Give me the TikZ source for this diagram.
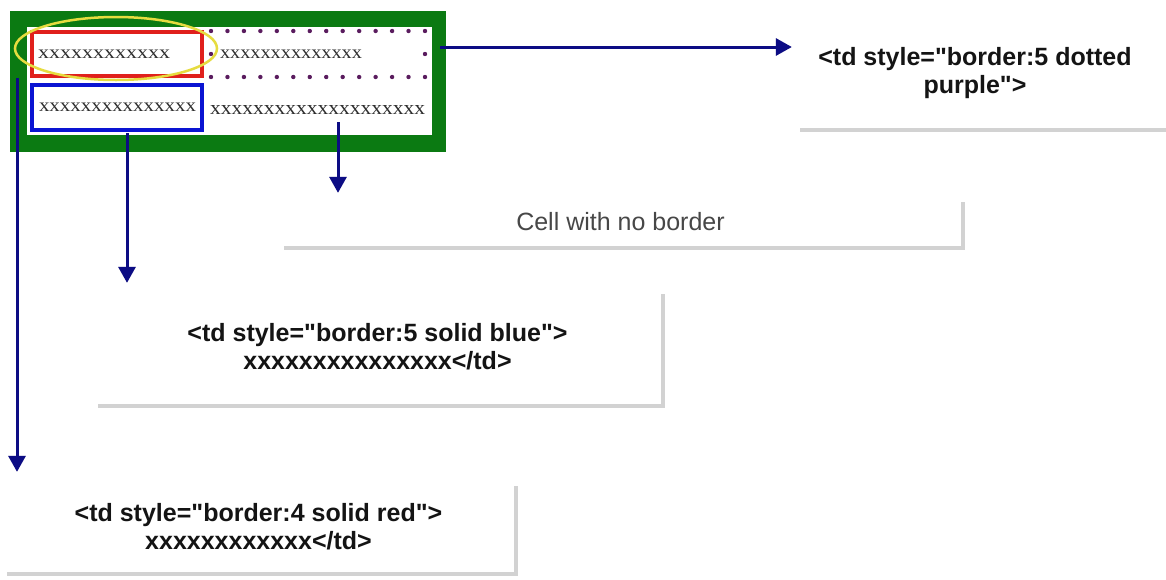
\documentclass[tikz,border=0pt]{standalone}
\usepackage{fontspec}
\setmainfont{Liberation Serif}
\setsansfont{Liberation Sans}[Ligatures=TeXOff]
\usetikzlibrary{arrows.meta,shadows,calc,shapes.geometric}
\definecolor{tgreen}{HTML}{0B7A12}
\definecolor{tred}{HTML}{E0201C}
\definecolor{tblue}{HTML}{0A14D2}
\definecolor{tyellow}{HTML}{E6DC40}
\definecolor{tpurple}{HTML}{5A1C5E}
\definecolor{navytwo}{HTML}{0C0C84}
\definecolor{xgray}{HTML}{2E2E2E}
\begin{document}
\begin{tikzpicture}[x=1pt,y=-1pt,
  xs/.style={inner sep=0pt, text=xgray},
  cell/.style={rectangle, line width=4pt, minimum height=44pt, align=left, inner ysep=0pt, text=xgray},
  tbox/.style={rectangle, fill=white, inner sep=0pt, align=center,
    drop shadow={shadow xshift=4pt, shadow yshift=-4pt, fill=black!35, opacity=0.5},
    font=\sffamily\bfseries\fontsize{25}{28}\selectfont, text=black!92},
  arr/.style={draw=navytwo, line width=3pt, -{Triangle[length=16pt,width=17pt]}},
  arrsh/.style={draw=black!30, opacity=0.4, line width=3pt, -{Triangle[length=16pt,width=17pt]}},
  dotp/.style={fill=tpurple}
]
\useasboundingbox (0,0) rectangle (1166,579);
\fill[white] (0,0) rectangle (1166,579);

% table
\node[fill=tgreen, minimum width=436pt, minimum height=141pt, inner sep=0pt] (tbl) at (228,81.5) {};
\node[fill=white, minimum width=405pt, minimum height=108pt, inner sep=0pt] (tin) at (229.5,81) {};

\node[cell, draw=tred, inner xsep=6pt, text width=158pt] (r1c1) at (117,54)
  {\resizebox{132pt}{8.5pt}{xxxxxxxxxxxx}};
\node[cell, draw=tblue, inner xsep=7pt, text width=156pt, minimum height=45pt] (r2c1) at (117,107.5)
  {\resizebox{157pt}{8.5pt}{xxxxxxxxxxxxxxx}};
\node[cell, inner xsep=7pt, text width=196pt, minimum height=42pt] (r1c2) at (318,54)
  {\resizebox{142pt}{8.5pt}{xxxxxxxxxxxxxx}};
\node[xs, anchor=west] (r2c2) at (210,110) {\resizebox{215pt}{9pt}{xxxxxxxxxxxxxxxxxxxx}};

\foreach \i in {0,...,13}{
  \fill[dotp] ($(r1c2.north west)!\i/13!(r1c2.north east)$) circle (2.2pt);
  \fill[dotp] ($(r1c2.south west)!\i/13!(r1c2.south east)$) circle (2.2pt);
}
\fill[dotp] (r1c2.west) circle (2.2pt);
\fill[dotp] (r1c2.east) circle (2.2pt);

\node[draw=tyellow, line width=2.5pt, ellipse, minimum width=202pt, minimum height=63pt, inner sep=0pt] (yell) at (116,48.5) {};

% boxes
\node[tbox, minimum width=380pt, minimum height=110pt] (boxA) at (986,73)
  {<td style="border:5 dotted\hspace*{22pt}\\purple">\hspace*{22pt}};
\node[tbox, minimum width=681pt, minimum height=48pt, font=\sffamily\fontsize{25}{28}\selectfont, text=black!72] (boxB) at (620.5,222)
  {Cell with no border};
\node[tbox, minimum width=567pt, minimum height=114pt] (boxC) at (377.5,347)
  {<td style="border:5 solid blue">\\xxxxxxxxxxxxxxx</td>};
\node[tbox, minimum width=511pt, minimum height=90pt] (boxD) at (258.5,527)
  {<td style="border:4 solid red">\\xxxxxxxxxxxx</td>};

% arrow start points
\coordinate (s1) at (440,47);
\coordinate (s2) at (338,122);
\coordinate (s3) at (127,133);
\coordinate (s4) at (17,78);

% shadows of arrows
\begin{scope}[shift={(4pt,-4pt)}]
\draw[arrsh, shorten >=4pt] (s1) -- (s1 -| boxA.west);
\draw[arrsh, shorten >=5pt] (s2) -- (s2 |- boxB.north);
\draw[arrsh, shorten >=7pt] (s3) -- (s3 |- boxC.north);
\draw[arrsh, shorten >=10pt] (s4) -- (s4 |- boxD.north);
\end{scope}

\draw[arr, shorten >=4pt] (s1) -- (s1 -| boxA.west);
\draw[arr, shorten >=5pt] (s2) -- (s2 |- boxB.north);
\draw[arr, shorten >=7pt] (s3) -- (s3 |- boxC.north);
\draw[arr, shorten >=10pt] (s4) -- (s4 |- boxD.north);
\end{tikzpicture}
\end{document}
